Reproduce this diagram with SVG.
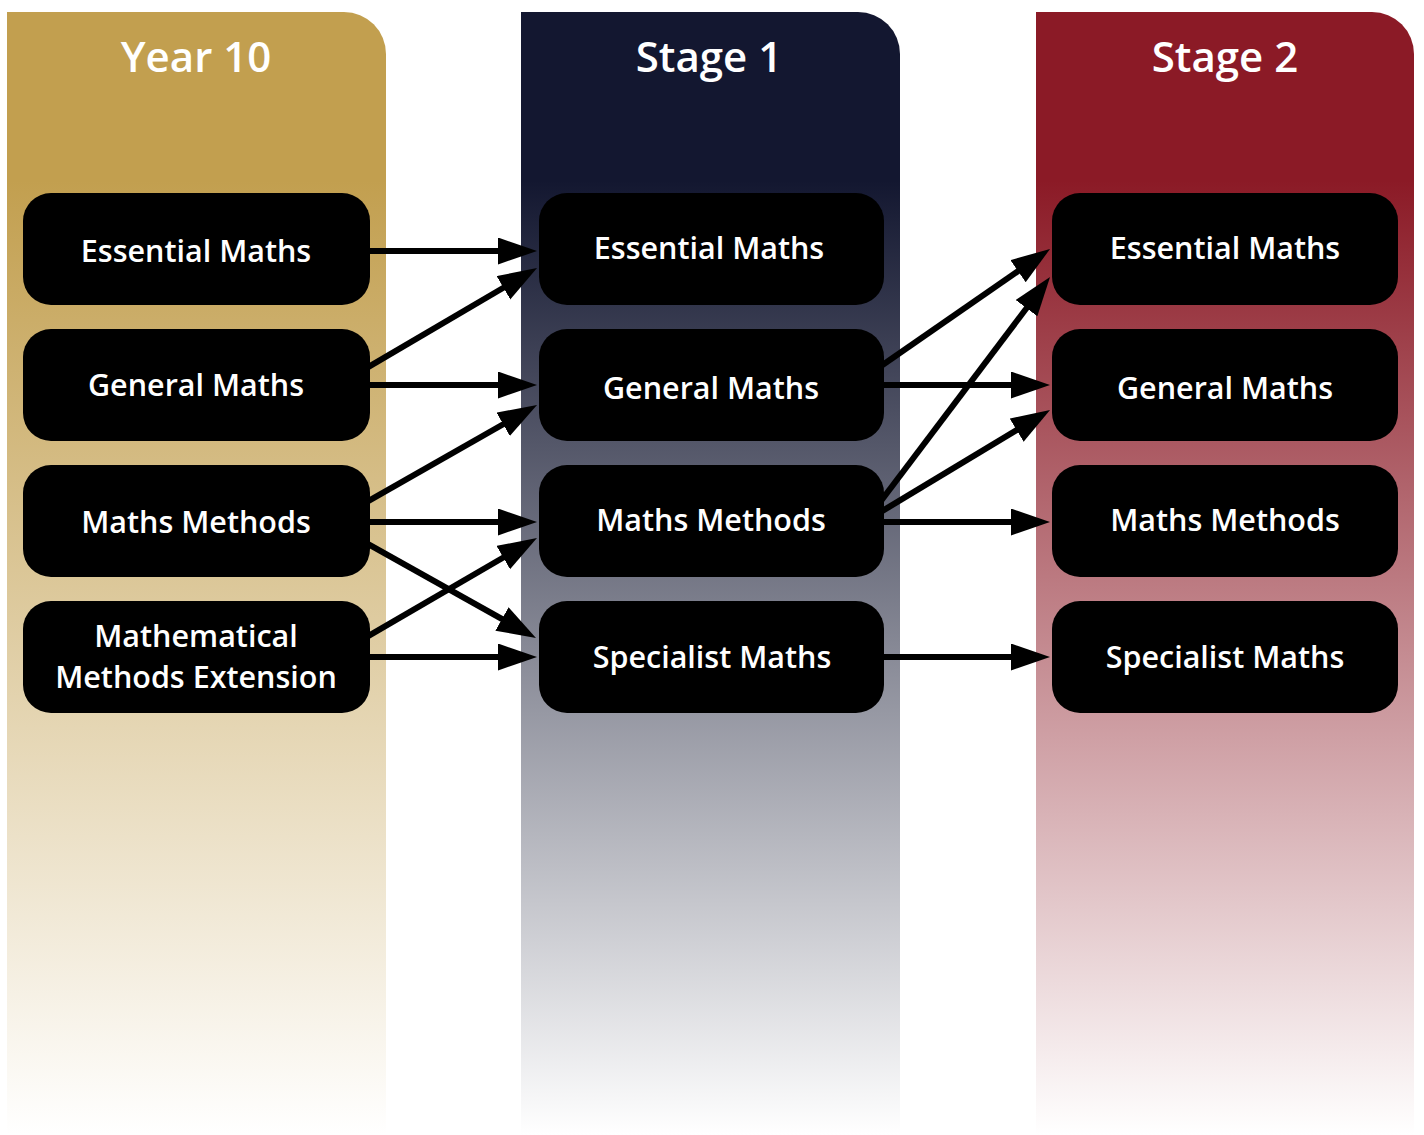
<svg xmlns="http://www.w3.org/2000/svg" width="1424" height="1135" viewBox="0 0 1424 1135">
<style>
.hdr{font-family:"Open Sans","Noto Sans","Liberation Sans",sans-serif;font-weight:600;font-size:42px;fill:#fff;text-anchor:middle}
.lbl{font-family:"Open Sans","Noto Sans","Liberation Sans",sans-serif;font-weight:600;font-size:30.5px;fill:#fff;text-anchor:middle}
.box{fill:#000}
.con{stroke:#000;stroke-width:6;fill:none;marker-end:url(#ah)}
</style>
<defs>
<linearGradient id="gY" gradientUnits="userSpaceOnUse" x1="0" y1="12" x2="0" y2="1135">
<stop offset="0" stop-color="#C29F4F"/><stop offset="0.15" stop-color="#C29F4F"/><stop offset="1" stop-color="#FFFFFF"/>
</linearGradient>
<linearGradient id="gS1" gradientUnits="userSpaceOnUse" x1="0" y1="12" x2="0" y2="1135">
<stop offset="0" stop-color="#131730"/><stop offset="0.15" stop-color="#131730"/><stop offset="1" stop-color="#FFFFFF"/>
</linearGradient>
<linearGradient id="gS2" gradientUnits="userSpaceOnUse" x1="0" y1="12" x2="0" y2="1135">
<stop offset="0" stop-color="#8B1A26"/><stop offset="0.15" stop-color="#8B1A26"/><stop offset="1" stop-color="#FFFFFF"/>
</linearGradient>
<marker id="ah" markerUnits="userSpaceOnUse" markerWidth="40" markerHeight="28" refX="24" refY="13.5" orient="auto" viewBox="0 0 40 28">
<path d="M0,0 L39,13.5 L0,27 Z" fill="#000"/>
</marker>
</defs>
<rect width="1424" height="1135" fill="#fff"/>
<g id="col-year10">
<path d="M7,12 H344 A42,42 0 0 1 386,54 V1135 H7 Z" fill="url(#gY)"/>
<text class="hdr" x="196" y="72">Year 10</text>
</g>
<g id="col-stage1">
<path d="M521,12 H858 A42,42 0 0 1 900,54 V1135 H521 Z" fill="url(#gS1)"/>
<text class="hdr" x="709" y="72">Stage 1</text>
</g>
<g id="col-stage2">
<path d="M1036,12 H1372 A42,42 0 0 1 1414,54 V1135 H1036 Z" fill="url(#gS2)"/>
<text class="hdr" x="1225" y="72">Stage 2</text>
</g>
<g id="connectors">
<path class="con" d="M366,251 L522,251"/>
<path class="con" d="M366,368.3 L524.1,275.6"/>
<path class="con" d="M366,385 L522,385"/>
<path class="con" d="M366,502.3 L524,412.4"/>
<path class="con" d="M366,522 L522,522"/>
<path class="con" d="M366,542.8 L522.9,630.7"/>
<path class="con" d="M366,637.3 L524,545.5"/>
<path class="con" d="M366,657 L522,657"/>
<path class="con" d="M880,366.8 L1037.7,257.5"/>
<path class="con" d="M880,502.3 L1041,289"/>
<path class="con" d="M880,385 L1035,385"/>
<path class="con" d="M880,512.4 L1037.2,417.7"/>
<path class="con" d="M880,522 L1035,522"/>
<path class="con" d="M880,657 L1035,657"/>
</g>
<g id="y10-essential"><rect class="box" x="23" y="193" width="347" height="112" rx="28"/><text class="lbl" x="196" y="262">Essential Maths</text></g>
<g id="y10-general"><rect class="box" x="23" y="329" width="347" height="112" rx="28"/><text class="lbl" x="196" y="396">General Maths</text></g>
<g id="y10-methods"><rect class="box" x="23" y="465" width="347" height="112" rx="28"/><text class="lbl" x="196" y="533">Maths Methods</text></g>
<g id="y10-mme"><rect class="box" x="23" y="601" width="347" height="112" rx="28"/><text class="lbl" x="196" y="647">Mathematical</text><text class="lbl" x="196" y="688">Methods Extension</text></g>
<g id="s1-essential"><rect class="box" x="539" y="193" width="345" height="112" rx="28"/><text class="lbl" x="709" y="259">Essential Maths</text></g>
<g id="s1-general"><rect class="box" x="539" y="329" width="345" height="112" rx="28"/><text class="lbl" x="711" y="399">General Maths</text></g>
<g id="s1-methods"><rect class="box" x="539" y="465" width="345" height="112" rx="28"/><text class="lbl" x="711" y="531">Maths Methods</text></g>
<g id="s1-specialist"><rect class="box" x="539" y="601" width="345" height="112" rx="28"/><text class="lbl" x="712" y="668">Specialist Maths</text></g>
<g id="s2-essential"><rect class="box" x="1052" y="193" width="346" height="112" rx="28"/><text class="lbl" x="1225" y="259">Essential Maths</text></g>
<g id="s2-general"><rect class="box" x="1052" y="329" width="346" height="112" rx="28"/><text class="lbl" x="1225" y="399">General Maths</text></g>
<g id="s2-methods"><rect class="box" x="1052" y="465" width="346" height="112" rx="28"/><text class="lbl" x="1225" y="531">Maths Methods</text></g>
<g id="s2-specialist"><rect class="box" x="1052" y="601" width="346" height="112" rx="28"/><text class="lbl" x="1225" y="668">Specialist Maths</text></g>
</svg>
